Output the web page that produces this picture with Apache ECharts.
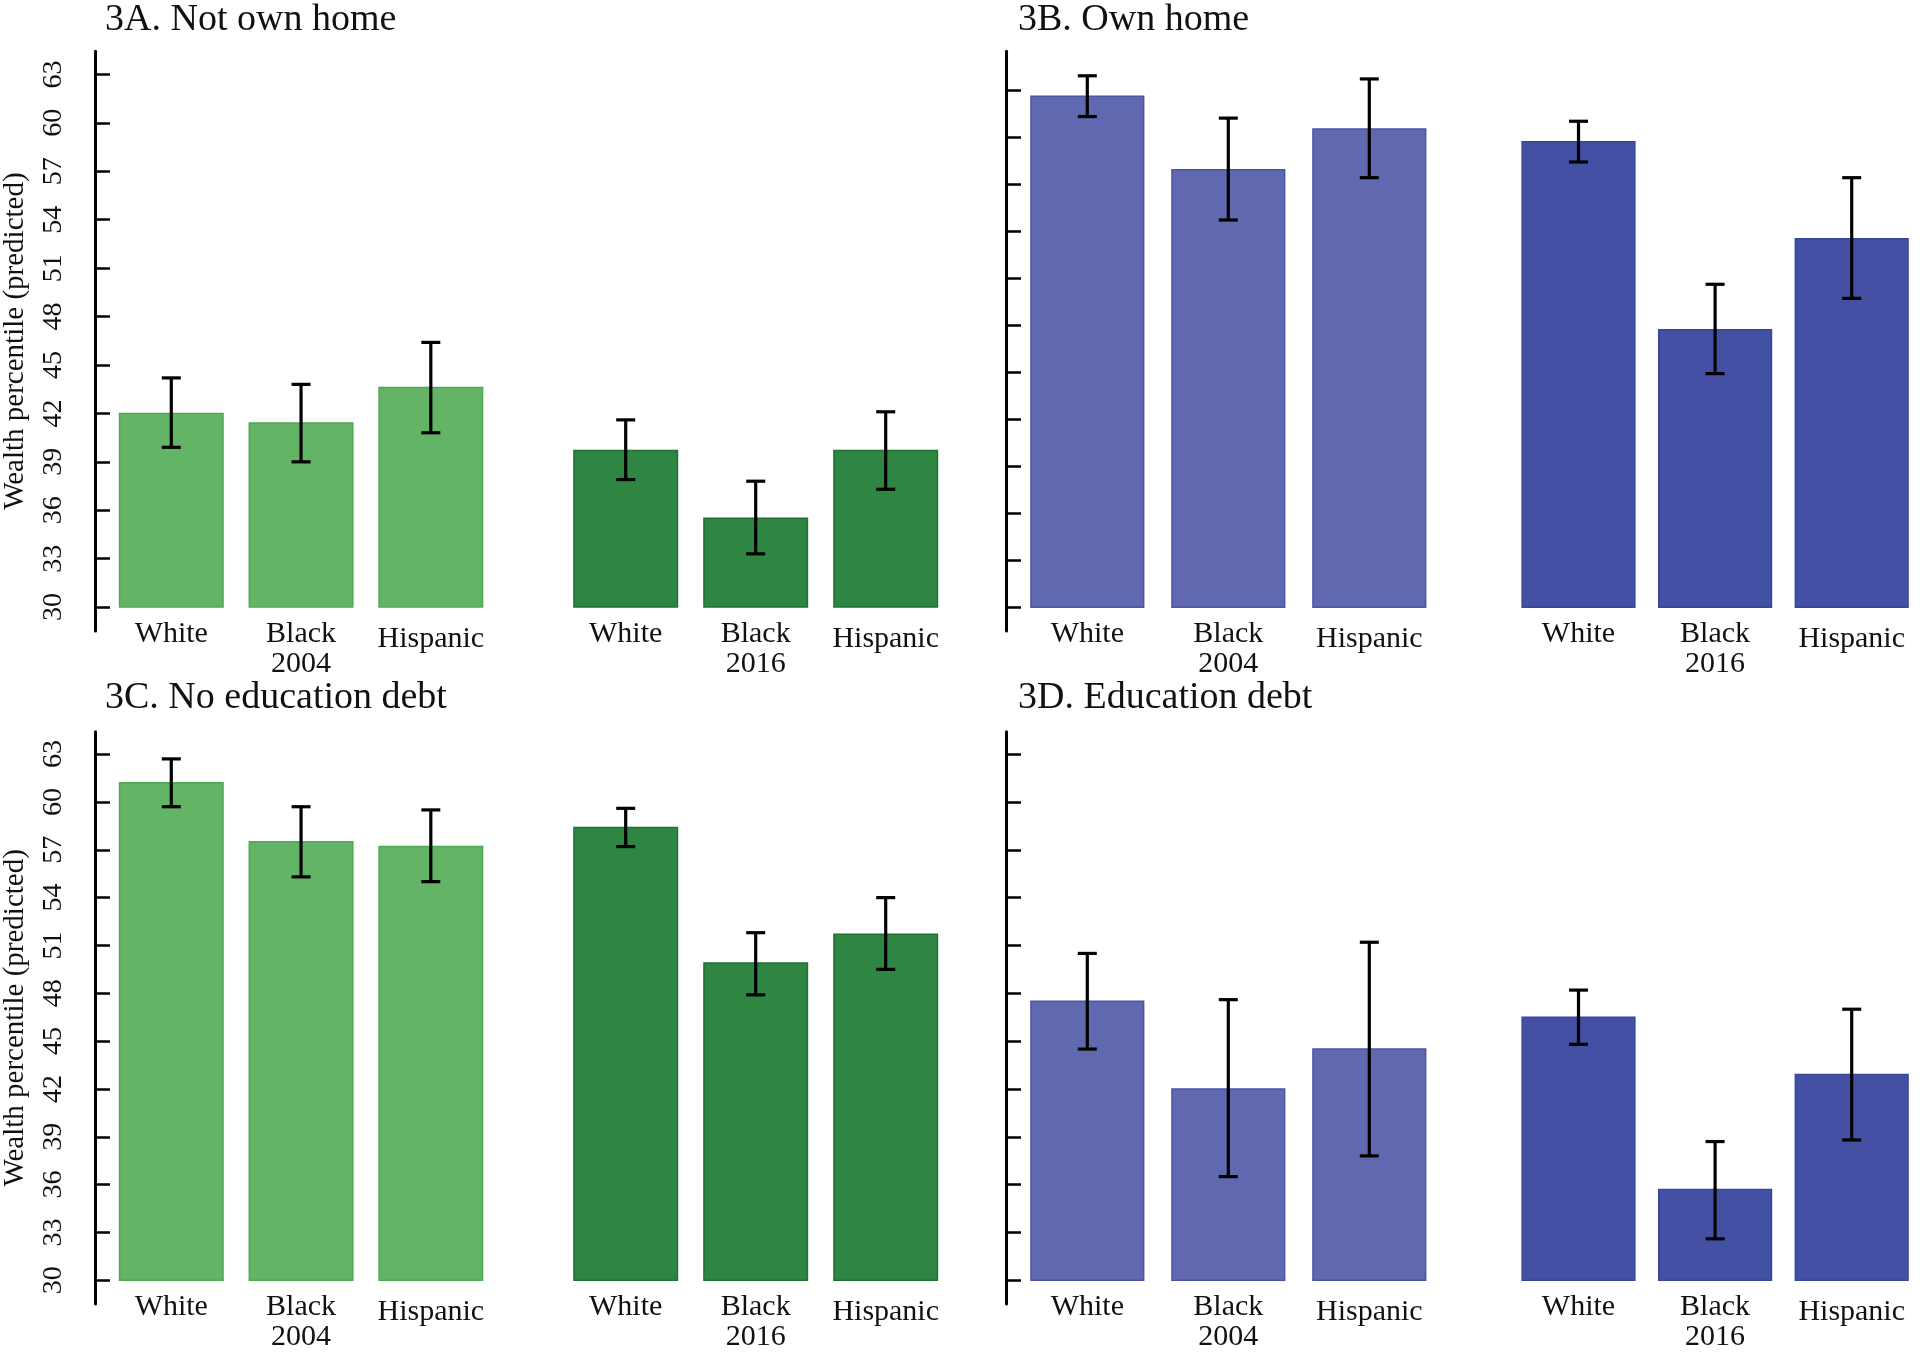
<!DOCTYPE html>
<html>
<head>
<meta charset="utf-8">
<script src="https://cdn.jsdelivr.net/npm/echarts@6/dist/echarts.min.js"></script>
<style>
  html, body { margin: 0; padding: 0; background: #ffffff; }
  #chart { width: 1920px; height: 1352px; }
</style>
</head>
<body>
<div id="chart"></div>
<script>
// ---------- data ----------
const cats2004 = ['White', 'Black\n2004', 'Hispanic'];
const cats2016 = ['White', 'Black\n2016', 'Hispanic'];
const yTicks = [30, 33, 36, 39, 42, 45, 48, 51, 54, 57, 60, 63];
const yAxisName = 'Wealth percentile (predicted)';
const panelTitles = ['3A. Not own home', '3B. Own home', '3C. No education debt', '3D. Education debt'];

// 3A. Not own home
const notOwn2004 = [42.0, 41.4, 43.6];
const notOwn2004Low = [39.9, 39.0, 40.8];
const notOwn2004High = [44.2, 43.8, 46.4];
const notOwn2016 = [39.7, 35.5, 39.7];
const notOwn2016Low = [37.9, 33.3, 37.3];
const notOwn2016High = [41.6, 37.8, 42.1];

// 3B. Own home
const own2004 = [62.6, 57.9, 60.5];
const own2004Low = [61.3, 54.7, 57.4];
const own2004High = [63.9, 61.2, 63.7];
const own2016 = [59.7, 47.7, 53.5];
const own2016Low = [58.4, 44.9, 49.7];
const own2016High = [61.0, 50.6, 57.4];

// 3C. No education debt
const noDebt2004 = [61.2, 57.5, 57.2];
const noDebt2004Low = [59.7, 55.3, 55.0];
const noDebt2004High = [62.7, 59.7, 59.5];
const noDebt2016 = [58.4, 49.9, 51.7];
const noDebt2016Low = [57.2, 47.9, 49.5];
const noDebt2016High = [59.6, 51.8, 54.0];

// 3D. Education debt
const debt2004 = [47.5, 42.0, 44.5];
const debt2004Low = [44.5, 36.5, 37.8];
const debt2004High = [50.5, 47.6, 51.2];
const debt2016 = [46.5, 35.7, 42.9];
const debt2016Low = [44.8, 32.6, 38.8];
const debt2016High = [48.2, 38.7, 47.0];

// ---------- layout / style ----------
const FONT = "'Liberation Serif', 'Times New Roman', serif";
const COL = {
  light: { fill: '#64b467', border: '#4fa853' },
  dark: { fill: '#2f8642', border: '#1f7232' },
  lightBlue: { fill: '#6068b0', border: '#4b54a6' },
  darkBlue: { fill: '#4350a3', border: '#38469c' }
};
const BASE = yTicks[0]; // bars rise from the lowest tick value

const panels = [
  { title: panelTitles[0], titleLeft: 100, titleTop: -4, axisX: 94.3, top: 51.2, height: 579.8,
    min: 28.52, max: 64.44, xOffset: -23.9, left1: 105.7, left2: 560.7, w: 390, barW: 103.5,
    showLabels: true, c1: COL.light, c2: COL.dark,
    d1: [notOwn2004, notOwn2004Low, notOwn2004High], d2: [notOwn2016, notOwn2016Low, notOwn2016High] },
  { title: panelTitles[1], titleLeft: 1013, titleTop: -4, axisX: 1006, top: 51.2, height: 579.8,
    min: 28.481, max: 65.469, xOffset: -23.9, left1: 1016.8, left2: 1510.2, w: 423, barW: 112.7,
    showLabels: false, c1: COL.lightBlue, c2: COL.darkBlue,
    d1: [own2004, own2004Low, own2004High], d2: [own2016, own2016Low, own2016High] },
  { title: panelTitles[2], titleLeft: 100, titleTop: 674, axisX: 94.3, top: 731.7, height: 580.5,
    min: 28.511, max: 64.406, xOffset: -24, left1: 105.7, left2: 560.7, w: 390, barW: 103.5,
    showLabels: true, c1: COL.light, c2: COL.dark,
    d1: [noDebt2004, noDebt2004Low, noDebt2004High], d2: [noDebt2016, noDebt2016Low, noDebt2016High] },
  { title: panelTitles[3], titleLeft: 1013, titleTop: 674, axisX: 1006, top: 731.7, height: 580.5,
    min: 28.511, max: 64.406, xOffset: -24, left1: 1016.8, left2: 1510.2, w: 423, barW: 112.7,
    showLabels: false, c1: COL.lightBlue, c2: COL.darkBlue,
    d1: [debt2004, debt2004Low, debt2004High], d2: [debt2016, debt2016Low, debt2016High] }
];

const titles = [], grids = [], xAxes = [], yAxes = [], series = [];

function makeBarRender(bw, col) {
  return function (params, api) {
    const x = api.value(0);
    const b = api.coord([x, BASE]);
    const t = api.coord([x, api.value(1)]);
    return {
      type: 'rect',
      shape: { x: b[0] - bw / 2, y: t[1], width: bw, height: b[1] - t[1] },
      style: { fill: col.fill, stroke: col.border, lineWidth: 1.5 }
    };
  };
}

function errRender(params, api) {
  const x = api.value(0);
  const lo = api.coord([x, api.value(1)]);
  const hi = api.coord([x, api.value(2)]);
  const hw = 9.5;
  const st = { stroke: '#000', lineWidth: 3.2 };
  return {
    type: 'group',
    children: [
      { type: 'line', shape: { x1: lo[0], y1: hi[1], x2: lo[0], y2: lo[1] }, style: st },
      { type: 'line', shape: { x1: lo[0] - hw, y1: hi[1], x2: lo[0] + hw, y2: hi[1] }, style: st },
      { type: 'line', shape: { x1: lo[0] - hw, y1: lo[1], x2: lo[0] + hw, y2: lo[1] }, style: st }
    ]
  };
}

panels.forEach(function (p) {
  titles.push({
    text: p.title, left: p.titleLeft, top: p.titleTop,
    textStyle: { fontFamily: FONT, fontSize: 38, fontWeight: 'normal', color: '#111', lineHeight: 38 }
  });
  [[p.left1, cats2004, p.d1, p.c1, true], [p.left2, cats2016, p.d2, p.c2, false]].forEach(function (g) {
    const gi = grids.length;
    grids.push({ left: g[0], top: p.top, width: p.w, height: p.height, containLabel: false });
    xAxes.push({
      type: 'category', gridIndex: gi, data: g[1], offset: p.xOffset,
      axisLine: { show: false }, axisTick: { show: false }, splitLine: { show: false },
      axisLabel: {
        interval: 0, fontFamily: FONT, fontSize: 30, color: '#111', lineHeight: 30, margin: 12,
        formatter: function (v) { return v === 'Hispanic' ? '{h|' + v + '}' : v; },
        rich: { h: { fontFamily: FONT, fontSize: 30, color: '#111', lineHeight: 30, padding: [11, 0, 0, 0] } }
      }
    });
    const first = g[4];
    yAxes.push({
      type: 'value', gridIndex: gi, min: p.min, max: p.max, show: first,
      offset: g[0] - p.axisX,
      name: (first && p.showLabels) ? yAxisName : '',
      nameLocation: 'middle', nameGap: 65,
      nameTextStyle: { fontFamily: FONT, fontSize: 29, color: '#111' },
      axisLine: { show: true, lineStyle: { color: '#000', width: 3 } },
      axisTick: { show: true, inside: true, length: 15, customValues: yTicks, lineStyle: { color: '#000', width: 2.5 } },
      axisLabel: { show: p.showLabels, customValues: yTicks, rotate: 90, margin: 27,
        fontFamily: FONT, fontSize: 28, color: '#111' },
      splitLine: { show: false }
    });
    series.push({
      type: 'custom', xAxisIndex: gi, yAxisIndex: gi, renderItem: makeBarRender(p.barW, g[3]),
      encode: { x: 0, y: 1 }, z: 2, silent: true, clip: false,
      data: g[2][0].map(function (v, i) { return [i, v]; })
    });
    series.push({
      type: 'custom', xAxisIndex: gi, yAxisIndex: gi, renderItem: errRender,
      encode: { x: 0, y: [1, 2] }, z: 5, silent: true,
      data: g[2][0].map(function (v, i) { return [i, g[2][1][i], g[2][2][i]]; })
    });
  });
});

const chart = echarts.init(document.getElementById('chart'), null, { renderer: 'canvas' });
chart.setOption({
  animation: false,
  backgroundColor: '#ffffff',
  title: titles,
  grid: grids,
  xAxis: xAxes,
  yAxis: yAxes,
  series: series
});
</script>
</body>
</html>
